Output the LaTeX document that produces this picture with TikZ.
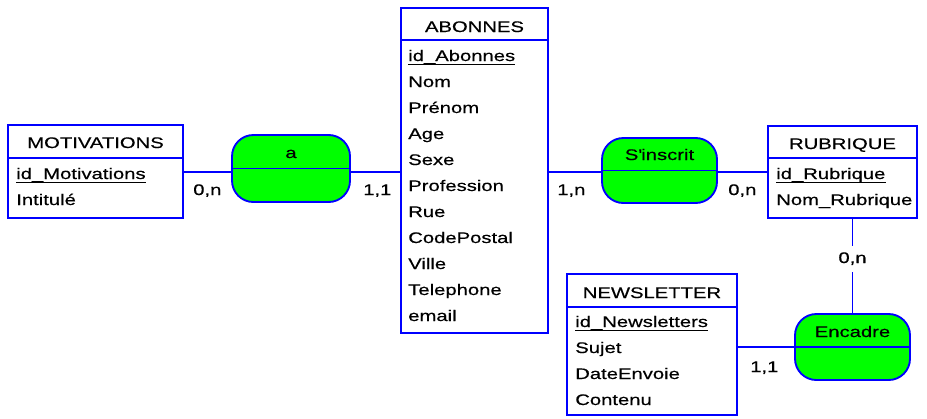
\documentclass[tikz,border=0pt]{standalone}
\usepackage{fontspec}
\setmainfont{Liberation Sans}[FakeStretch=1.32,FakeBold=0.4]
\definecolor{eblue}{RGB}{0,0,255}
\definecolor{egreen}{RGB}{0,255,0}
\begin{document}
\begin{tikzpicture}[x=0.75pt,y=-0.75pt,
  every node/.style={font=\fontsize{11.5pt}{13pt}\selectfont, text=black},
  ent/.style={draw=eblue, line width=1.4pt, fill=white, anchor=north west, inner sep=0pt, outer sep=0pt},
  assoc/.style={draw=eblue, line width=1.4pt, fill=egreen, rounded corners=16pt, anchor=north west, inner sep=0pt, outer sep=0pt},
  lnk/.style={draw=eblue, line width=1.1pt},
  divl/.style={draw=eblue, line width=1.4pt},
  hdr/.style={anchor=base, inner sep=0pt},
  attr/.style={anchor=base west, inner sep=0pt},
  card/.style={anchor=base west, inner sep=0pt},
  ul/.style={draw=black, line width=0.75pt}
]
\useasboundingbox (0,0) rectangle (927,418);

% ---------- MOTIVATIONS ----------
\node[ent, minimum width=175*0.75pt, minimum height=93*0.75pt] (mot) at (8,125) {};
\draw[divl] (mot.west |- 0,158) -- (mot.east |- 0,158);
\node[hdr] (motH) at (mot.north |- 0,148) {MOTIVATIONS};
\node[attr] (motA1) at (16,179) {id\_Motivations};
\draw[ul] ([yshift=-2.4pt]motA1.base west) -- ([yshift=-2.4pt]motA1.base east);
\node[attr] (motA2) at (16,205) {Intitulé};

% ---------- ABONNES ----------
\node[ent, minimum width=147*0.75pt, minimum height=325*0.75pt] (abo) at (401,8) {};
\draw[divl] (abo.west |- 0,40) -- (abo.east |- 0,40);
\node[hdr] (aboH) at (abo.north |- 0,32) {ABONNES};
\node[attr] (aboA1) at (408,61) {id\_Abonnes};
\draw[ul] ([yshift=-2.4pt]aboA1.base west) -- ([yshift=-2.4pt]aboA1.base east);
\node[attr] (aboA2) at (408,87) {Nom};
\node[attr] (aboA3) at (408,113) {Prénom};
\node[attr] (aboA4) at (408,139) {Age};
\node[attr] (aboA5) at (408,165) {Sexe};
\node[attr] (aboA6) at (408,191) {Profession};
\node[attr] (aboA7) at (408,217) {Rue};
\node[attr] (aboA8) at (408,243) {CodePostal};
\node[attr] (aboA9) at (408,269) {Ville};
\node[attr] (aboA10) at (408,295) {Telephone};
\node[attr] (aboA11) at (408,321) {email};

% ---------- RUBRIQUE ----------
\node[ent, minimum width=149*0.75pt, minimum height=92*0.75pt] (rub) at (768,126) {};
\draw[divl] (rub.west |- 0,158) -- (rub.east |- 0,158);
\node[hdr] (rubH) at (rub.north |- 0,149) {RUBRIQUE};
\node[attr] (rubA1) at (776,179) {id\_Rubrique};
\draw[ul] ([yshift=-2.4pt]rubA1.base west) -- ([yshift=-2.4pt]rubA1.base east);
\node[attr] (rubA2) at (776,205) {Nom\_Rubrique};

% ---------- NEWSLETTER ----------
\node[ent, minimum width=170*0.75pt, minimum height=141*0.75pt] (news) at (567,274) {};
\draw[divl] (news.west |- 0,307) -- (news.east |- 0,307);
\node[hdr] (newsH) at (news.north |- 0,298) {NEWSLETTER};
\node[attr] (newsA1) at (575,327) {id\_Newsletters};
\draw[ul] ([yshift=-2.4pt]newsA1.base west) -- ([yshift=-2.4pt]newsA1.base east);
\node[attr] (newsA2) at (575,353) {Sujet};
\node[attr] (newsA3) at (575,379) {DateEnvoie};
\node[attr] (newsA4) at (575,405) {Contenu};

% ---------- associations ----------
\node[assoc, minimum width=118*0.75pt, minimum height=67*0.75pt] (a) at (232,135) {};
\draw[divl] (a.west) -- (a.east);
\node[hdr] (aL) at (a.north |- 0,158) {a};

\node[assoc, minimum width=115*0.75pt, minimum height=65*0.75pt] (ins) at (602,138) {};
\draw[divl] (ins.west) -- (ins.east);
\node[hdr] (insL) at (ins.north |- 0,160) {S\textquotesingle inscrit};

\node[assoc, minimum width=115*0.75pt, minimum height=66*0.75pt] (enc) at (795,314) {};
\draw[divl] (enc.west) -- (enc.east);
\node[hdr] (encL) at (enc.north |- 0,337) {Encadre};

% ---------- connectors ----------
\draw[lnk] (mot.east |- 0,172) -- (a.west |- 0,172);
\draw[lnk] (a.east |- 0,172) -- (abo.west |- 0,172);
\draw[lnk] (abo.east |- 0,172) -- (ins.west |- 0,172);
\draw[lnk] (ins.east |- 0,172) -- (rub.west |- 0,172);
\draw[lnk] (enc.north |- rub.south) -- (enc.north);
\draw[lnk] (news.east |- enc.west) -- (enc.west);

% ---------- cardinalities ----------
\node[card] (c1) at (193,195) {0,n};
\node[card] (c2) at (363,195) {1,1};
\node[card] (c3) at (557,195) {1,n};
\node[card] (c4) at (728,195) {0,n};
\node[anchor=base, fill=white, inner xsep=2pt, inner ysep=5pt] (c5) at (enc.north |- 0,263) {0,n};
\node[card] (c6) at (750,372) {1,1};
\end{tikzpicture}
\end{document}
